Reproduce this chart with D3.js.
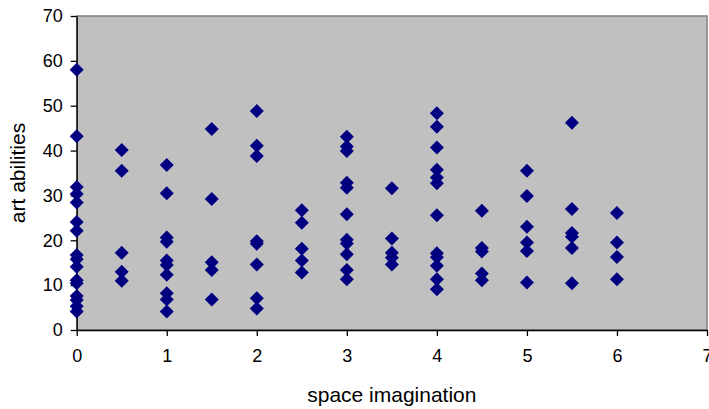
<!DOCTYPE html>
<html><head><meta charset="utf-8">
<script src="https://cdn.jsdelivr.net/npm/d3@7"></script>
<style>body{margin:0;background:#fff;} svg{display:block;}</style>
</head><body>
<svg id="c" width="709" height="409"></svg>
<script>
const xTicks = [0,1,2,3,4,5,6,7];
const yTicks = [0,10,20,30,40,50,60,70];
const xLabel = "space imagination";
const yLabel = "art abilities";
// space imagination values
const spaceX = [
 0,0,0,0,0,0,0,0,0,0,0,0,0,0,0,0,
 0.5,0.5,0.5,0.5,0.5,
 1,1,1,1,1,1,1,1,1,1,
 1.5,1.5,1.5,1.5,1.5,
 2,2,2,2,2,2,2,2,
 2.5,2.5,2.5,2.5,2.5,
 3,3,3,3,3,3,3,3,3,3,3,
 3.5,3.5,3.5,3.5,3.5,
 4,4,4,4,4,4,4,4,4,4,4,4,
 4.5,4.5,4.5,4.5,4.5,
 5,5,5,5,5,5,
 5.5,5.5,5.5,5.5,5.5,5.5,
 6,6,6,6
];
// art abilities values
const artY = [
 58,43.2,31.9,30.3,28.4,24.1,22.1,16.7,15.8,14.1,11.1,10.4,7.6,6.7,5.3,4.1,
 40.1,35.5,17.2,13.0,11.0,
 36.8,30.5,20.6,19.7,15.5,14.5,12.3,8.2,6.8,4.1,
 44.8,29.2,15.1,13.4,6.8,
 48.8,41.1,38.8,19.8,19.2,14.6,7.1,4.8,
 26.7,23.9,18.1,15.5,12.8,
 43.1,40.9,39.9,32.8,31.7,25.8,20.1,19.3,16.9,13.4,11.3,
 31.6,20.4,17.2,16.1,14.6,
 48.3,45.3,40.7,35.7,34.0,32.7,25.6,17.1,16.2,14.3,11.3,9.1,
 26.6,18.3,17.5,12.6,11.1,
 35.5,29.9,23.0,19.5,17.6,10.6,
 46.2,27.0,21.6,20.8,18.3,10.4,
 26.1,19.5,16.3,11.3
];

const svg = d3.select("#c");
const L = 76.7, R = 707, T = 16, B = 330;
const x = d3.scaleLinear().domain([0,7]).range([L,R]);
const y = d3.scaleLinear().domain([0,70]).range([B,T]);
const font = "Liberation Sans, Arial, sans-serif";

svg.append("rect").attr("x",L).attr("y",T).attr("width",R-L).attr("height",B-T)
  .attr("fill","#c0c0c0").attr("stroke","#808080").attr("stroke-width",1.5);

const xa = svg.append("g").attr("transform",`translate(0,${B})`)
  .call(d3.axisBottom(x).tickValues(xTicks).tickSize(6).tickPadding(13).tickSizeOuter(0).tickFormat(d3.format("d")));
const ya = svg.append("g").attr("transform",`translate(${L},0)`)
  .call(d3.axisLeft(y).tickValues(yTicks).tickSize(6).tickPadding(8).tickSizeOuter(0).tickFormat(d3.format("d")));
[xa,ya].forEach(a=>{
  a.selectAll("path,line").attr("stroke","#000").attr("stroke-width",1.3);
  a.selectAll("text").attr("font-family",font).attr("font-size",18).attr("fill","#000");
});

const diamond = "M0,-7L7,0L0,7L-7,0Z";
svg.append("g").selectAll("path").data(spaceX.map((d,i)=>[d,artY[i]])).join("path")
  .attr("d",diamond).attr("fill","#000080")
  .attr("transform",d=>`translate(${x(d[0])},${y(d[1])})`);

svg.append("text").attr("x",(L+R)/2).attr("y",402).attr("text-anchor","middle")
  .attr("font-family",font).attr("font-size",21).text(xLabel);
svg.append("text").attr("transform",`translate(25,${(T+B)/2}) rotate(-90)`).attr("text-anchor","middle")
  .attr("font-family",font).attr("font-size",21).text(yLabel);
</script>
</body></html>
